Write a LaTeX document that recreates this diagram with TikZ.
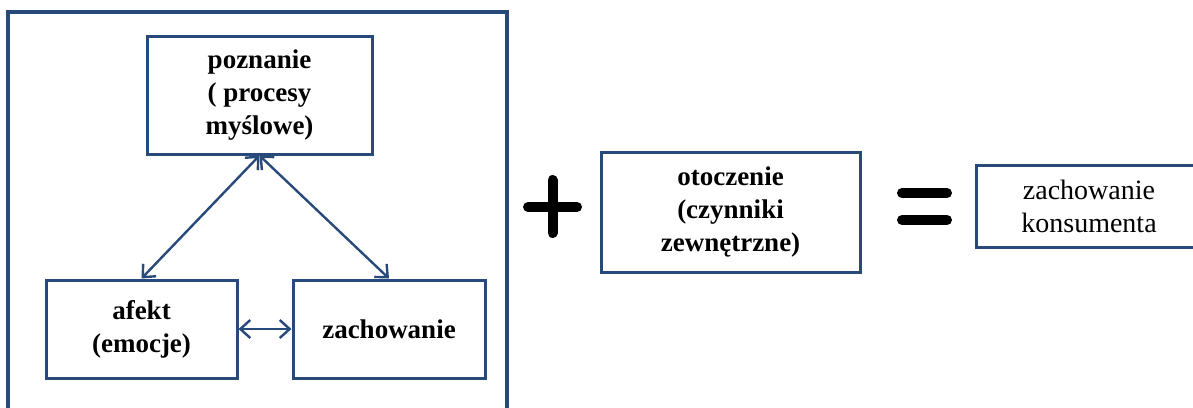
\documentclass[tikz,border=0pt]{standalone}
\usepackage{fontspec}
\setmainfont{Liberation Serif}
\usetikzlibrary{arrows.meta}

\definecolor{ramka}{RGB}{40,74,122}

\begin{document}
\begin{tikzpicture}[x=1pt, y=-1pt,
	every node/.style={font=\fontsize{27}{33}\selectfont, align=center, inner sep=0pt},
	blok/.style={draw=ramka, line width=3pt, fill=white},
	znak/.style={line width=10pt, line cap=round},
	>={Straight Barb[length=10pt, width=18pt]}]
	\clip (0,0) rectangle (1193,407);
	\fill[white] (0,0) rectangle (1193,407);
	% ramka wokol trzech skladnikow
	\draw[ramka, line width=3.5pt] (8,440) -- (8,12) -- (507,12) -- (507,440);
	\node[blok, minimum width=225pt, minimum height=118pt, font=\fontsize{27}{33}\selectfont\bfseries] (poz) at (259.5,95) {poznanie\\( procesy\\myślowe)};
	\node[blok, minimum width=191pt, minimum height=98pt, font=\fontsize{27}{33}\selectfont\bfseries] (afekt) at (141.5,329) {afekt\\(emocje)};
	\node[blok, minimum width=192pt, minimum height=98pt, font=\fontsize{27}{33}\selectfont\bfseries] (zach) at (389,329) {zachowanie};
	\draw[ramka, line width=2.4pt, <->] (poz.south) -- (afekt.north);
	\draw[ramka, line width=2.4pt, <->] (poz.south) -- (zach.north);
	\draw[ramka, line width=2.4pt, <->] (afekt.east) -- (zach.west);
	% plus i rowna sie
	\draw[znak] (528,207) -- (577,207);
	\draw[znak] (552.5,180) -- (552.5,233);
	\node[blok, minimum width=259pt, minimum height=120pt, font=\fontsize{27}{33}\selectfont\bfseries] (otocz) at (730.5,212) {otoczenie\\(czynniki\\zewnętrzne)};
	\draw[znak] (902,193) -- (947,193);
	\draw[znak] (902,220) -- (947,220);
	\node[blok, minimum width=226pt, minimum height=82pt, font=\fontsize{28}{33}\selectfont] (kons) at (1089,206) {zachowanie\\konsumenta};
\end{tikzpicture}
\end{document}
